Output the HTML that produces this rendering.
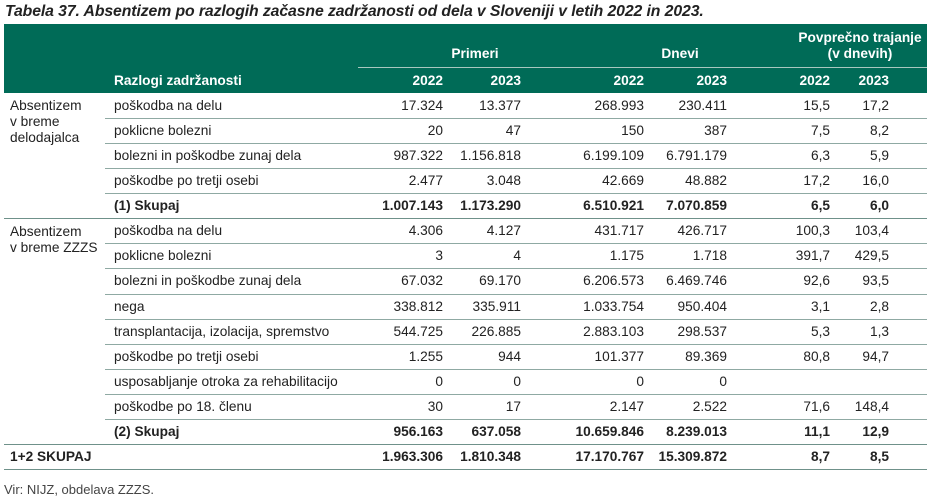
<!DOCTYPE html>
<html><head><meta charset="utf-8"><style>
body{margin:0;width:940px;height:503px;background:#fff;position:relative;overflow:hidden;font-family:"Liberation Sans",sans-serif;color:#222;}
.a{position:absolute;white-space:nowrap;font-size:13.7px;line-height:16px;}
.r{text-align:right;}
.c{text-align:center;}
.b{font-weight:bold;}
.hd{color:#fff;font-weight:bold;}
.ln{position:absolute;height:1px;background:#8fa9a3;}
</style></head><body>
<div class="a b" style="left:5px;top:3px;font-size:15.8px;font-style:italic;line-height:18px;letter-spacing:-0.1px">Tabela 37. Absentizem po razlogih začasne zadržanosti od dela v Sloveniji v letih 2022 in 2023.</div>
<div style="position:absolute;left:4px;top:24px;width:923px;height:69px;background:#006b57"></div>
<div class="ln" style="left:358px;top:67px;width:569px;background:#a8c8bf"></div>
<div class="a hd c" style="left:420px;top:46px;width:110px">Primeri</div>
<div class="a hd c" style="left:630px;top:46px;width:100px">Dnevi</div>
<div class="a hd c" style="left:785px;top:30px;width:150px">Povprečno trajanje<br>(v dnevih)</div>
<div class="a hd" style="left:114px;top:73px">Razlogi zadržanosti</div>
<div id="t"></div>
<div class="a" style="left:4px;top:482px;font-size:13px;color:#444">Vir: NIJZ, obdelava ZZZS.</div>
<script>
const reasons=["poškodba na delu","poklicne bolezni","bolezni in poškodbe zunaj dela","poškodbe po tretji osebi","(1) Skupaj","poškodba na delu","poklicne bolezni","bolezni in poškodbe zunaj dela","nega","transplantacija, izolacija, spremstvo","poškodbe po tretji osebi","usposabljanje otroka za rehabilitacijo","poškodbe po 18. členu","(2) Skupaj","1+2 SKUPAJ"];
const primeri2022=["17.324","20","987.322","2.477","1.007.143","4.306","3","67.032","338.812","544.725","1.255","0","30","956.163","1.963.306"];
const primeri2023=["13.377","47","1.156.818","3.048","1.173.290","4.127","4","69.170","335.911","226.885","944","0","17","637.058","1.810.348"];
const dnevi2022=["268.993","150","6.199.109","42.669","6.510.921","431.717","1.175","6.206.573","1.033.754","2.883.103","101.377","0","2.147","10.659.846","17.170.767"];
const dnevi2023=["230.411","387","6.791.179","48.882","7.070.859","426.717","1.718","6.469.746","950.404","298.537","89.369","0","2.522","8.239.013","15.309.872"];
const traj2022=["15,5","7,5","6,3","17,2","6,5","100,3","391,7","92,6","3,1","5,3","80,8","","71,6","11,1","8,7"];
const traj2023=["17,2","8,2","5,9","16,0","6,0","103,4","429,5","93,5","2,8","1,3","94,7","","148,4","12,9","8,5"];
const years=["2022","2023","2022","2023","2022","2023"];
const boldRows=[4,13,14];
const t=document.getElementById('t');
const rightEdges=[443,521,644,727,830,889];
const top0=93,rh=25.07;
function add(cls,txt,style){const d=document.createElement('div');d.className='a '+cls;d.textContent=txt;d.setAttribute('style',style);t.appendChild(d);return d;}
years.forEach((y,i)=>{const d=add('hd r',y,`left:${rightEdges[i]-60}px;top:73px;width:60px`);

});
const cols=[primeri2022,primeri2023,dnevi2022,dnevi2023,traj2022,traj2023];
reasons.forEach((r,i)=>{
 const y=top0+i*rh;const ty=y+5;const b=boldRows.includes(i)?' b':'';
 const l=add(b,r,`left:${i==14?10:114}px;top:${ty}px`);
 
 
 cols.forEach((c,j)=>{const d=add('r'+b,c[i],`left:${rightEdges[j]-90}px;top:${ty}px;width:90px`);
 
 });
 const full=(i==4||i==13||i==14);
 const ln=document.createElement('div');ln.className='ln';
 ln.setAttribute('style',`left:${full?4:105}px;top:${Math.round(y+rh)}px;width:${full?923:822}px;${full?'background:#6f918a;':''}`);
 
 
 t.appendChild(ln);
});
const g1=add('','',`left:10px;top:98px;line-height:16px`);g1.innerHTML='Absentizem<br>v breme<br>delodajalca';


const g2=add('','',`left:10px;top:224px;line-height:16px`);g2.innerHTML='Absentizem<br>v breme ZZZS';


</script>
</body></html>
